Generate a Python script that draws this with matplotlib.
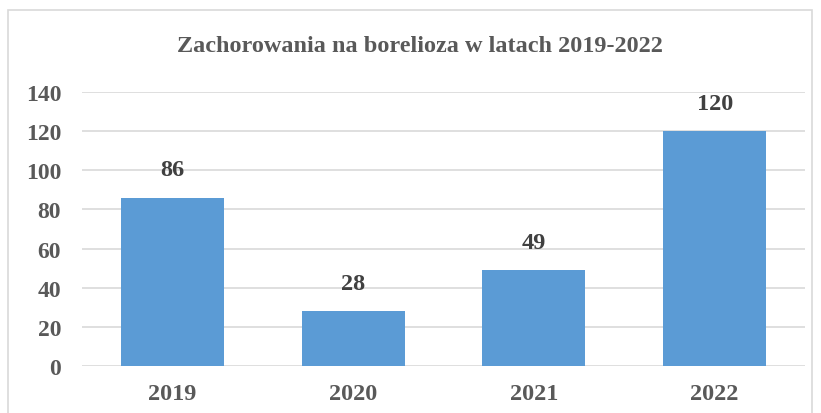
import matplotlib.pyplot as plt
from matplotlib.patches import Rectangle

years = ["2019", "2020", "2021", "2022"]
cases = [86, 28, 49, 120]
yticks = [0, 20, 40, 60, 80, 100, 120, 140]

plt.rcParams['font.family'] = 'Liberation Serif'
plt.rcParams['font.weight'] = 'bold'

fig = plt.figure(figsize=(8.21, 4.14), dpi=100)
fig.patches.append(Rectangle((8 / 821, -0.05), 804 / 821, 1.05 - 11 / 414,
                             transform=fig.transFigure, fill=False,
                             edgecolor='#D9D9D9', linewidth=1.2))
ax = fig.add_axes([82 / 821, 1 - 367 / 414, 723 / 821, 274 / 414])

x = range(len(years))
bars = ax.bar(x, cases, width=0.57, color='#5B9BD5', zorder=2)
for b, v in zip(bars, cases):
    ax.annotate(str(v), (b.get_x() + b.get_width() / 2, v), xytext=(0, 20),
                textcoords='offset points', ha='center', va='center',
                fontsize=17.5, fontweight='bold', color='#404040')

ax.set_xlim(-0.5, len(years) - 0.5)
ax.set_ylim(0, 140)
ax.set_yticks(yticks)
ax.set_xticks(list(x))
ax.set_xticklabels(years)
ax.grid(axis='y', color='#D9D9D9', linewidth=1.2, zorder=0)
for s in ax.spines.values():
    s.set_visible(False)
ax.tick_params(length=0, labelcolor='#595959')
ax.tick_params(axis='x', labelsize=17.5, pad=12)
ax.tick_params(axis='y', labelsize=17, pad=15)

fig.text(420 / 821, 1 - 47 / 414, "Zachorowania na borelioza w latach 2019-2022",
         ha='center', va='center', fontsize=17.5, fontweight='bold', color='#595959')

plt.savefig("out.png", dpi=100)
